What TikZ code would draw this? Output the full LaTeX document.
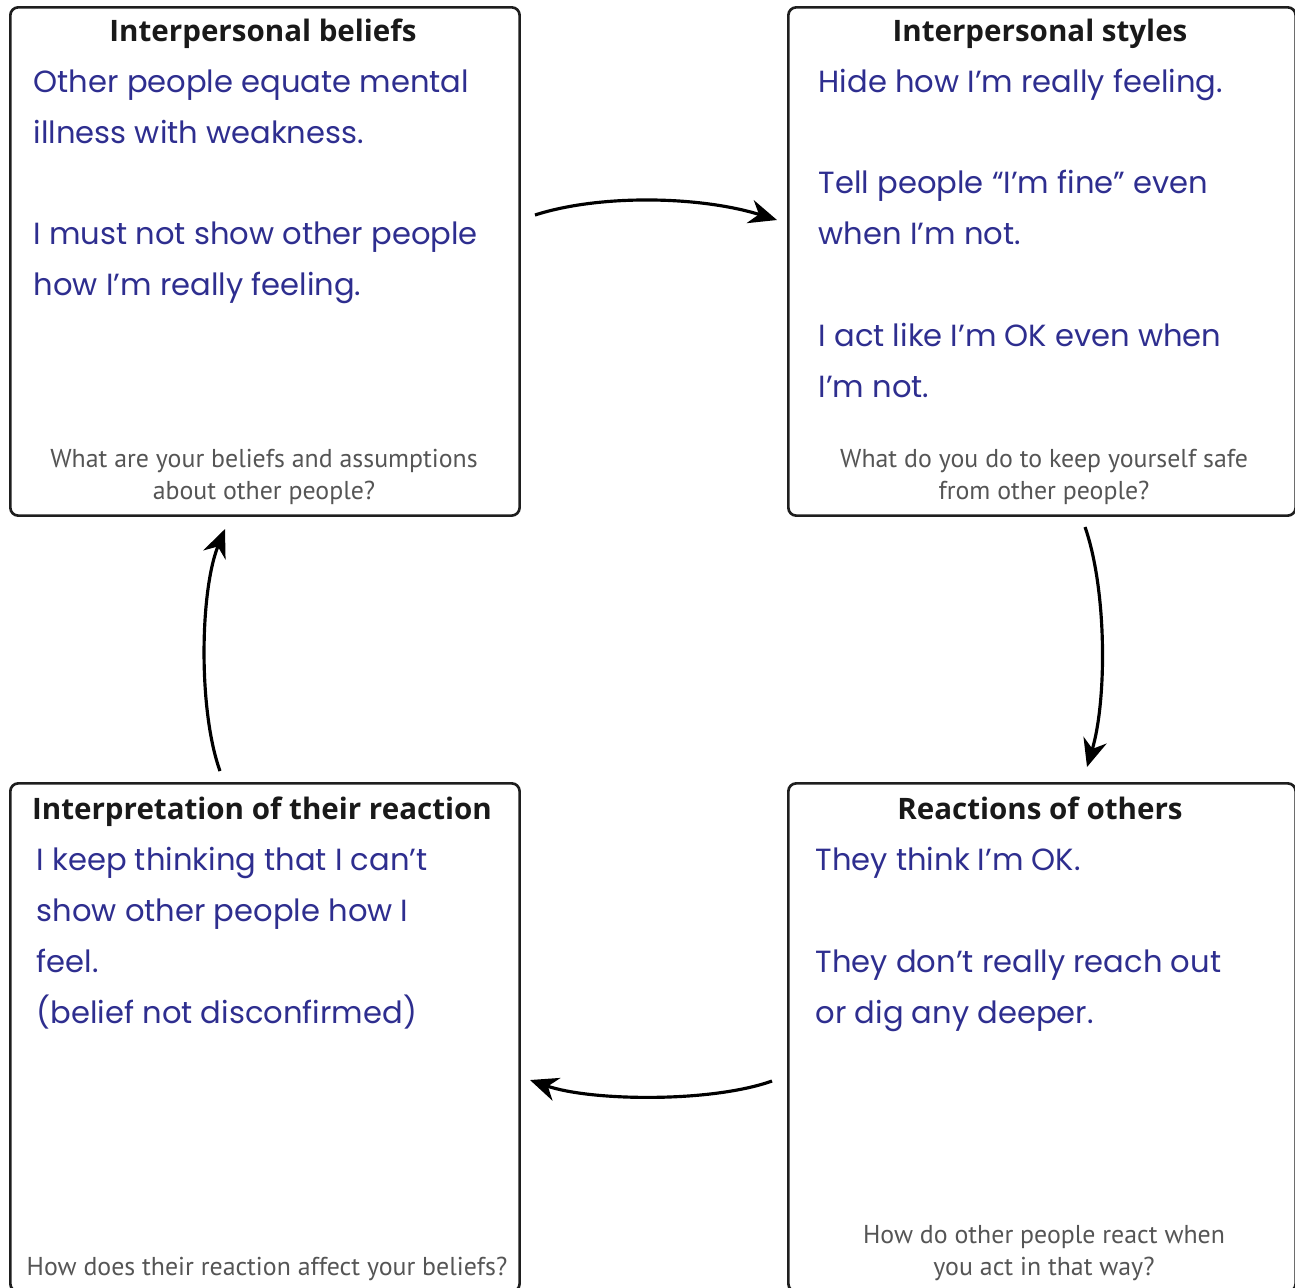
\documentclass[tikz,border=0pt]{standalone}
\usepackage{fontspec}
\setmainfont{PT Sans}
\newfontfamily\titlefont{Open Sans}
\newfontfamily\handfont{Poppins}
\usetikzlibrary{arrows.meta}
\definecolor{handblue}{RGB}{46,46,143}
\definecolor{qgrey}{RGB}{85,85,85}
\definecolor{boxline}{RGB}{30,30,30}
\tikzset{
  box/.style={draw=boxline, line width=0.75pt, rounded corners=0.08cm, anchor=north west,
    minimum width=5.09cm, minimum height=5.08cm, inner sep=0pt},
  title/.style={anchor=base, inner sep=0pt, text=black!90, font=\titlefont\fontsize{8.4pt}{10pt}\selectfont\bfseries},
  hand/.style={anchor=base west, inner sep=0pt, text=handblue,
    font=\handfont\fontsize{8.7pt}{14.5pt}\selectfont},
  question/.style={anchor=base, inner sep=0pt, align=center, text=qgrey,
    font=\fontsize{7.35pt}{9.1pt}\selectfont},
  cyc/.style={line width=0.9pt, -{Stealth[length=0.28cm, width=0.24cm]}}
}
\newcommand{\handlines}[1]{\begin{tabular}[t]{@{}l@{}}#1\end{tabular}}
\begin{document}
\begin{tikzpicture}[x=0.01cm, y=-0.01cm]
\useasboundingbox (0,0) rectangle (1295,1287);
\clip (0,0) rectangle (1295,1287);
% boxes
\node[box] (tl) at (9,6) {};
\node[box, minimum width=5.07cm] (tr) at (787,6) {};
\node[box] (bl) at (9,782) {};
\node[box, minimum width=5.07cm] (br) at (787,782) {};
% titles
\node[title] (tlt) at (263,41) {Interpersonal beliefs};
\node[title] (trt) at (1040,41) {Interpersonal styles};
\node[title] (blt) at (262,819) {Interpretation of their reaction};
\node[title] (brt) at (1040,819) {Reactions of others};
% handwritten text
\node[hand] (tlh) at (33,92) {\handlines{Other people equate mental\\illness with weakness.\\ \\I must not show other people\\how I’m really feeling.}};
\node[hand] (trh) at (818,92) {\handlines{Hide how I’m really feeling.\\ \\Tell people “I’m fine” even\\when I’m not.\\ \\I act like I’m OK even when\\I’m not.}};
\node[hand] (blh) at (36,870) {\handlines{I keep thinking that I can’t\\show other people how I\\feel.\\(belief not disconfirmed)}};
\node[hand] (brh) at (815,870) {\handlines{They think I’m OK.\\ \\They don’t really reach out\\or dig any deeper.}};
% questions (anchored at last baseline)
\node[question] (tlq) at (264,499) {What are your beliefs and assumptions\\about other people?};
\node[question] (trq) at (1044,499) {What do you do to keep yourself safe\\from other people?};
\node[question] (blq) at (267,1275) {How does their reaction affect your beliefs?};
\node[question] (brq) at (1044,1275) {How do other people react when\\you act in that way?};
% arrow end points
\coordinate (a1s) at (535,215);
\coordinate (a1e) at (777,220);
\coordinate (a2s) at (1085,527);
\coordinate (a2e) at (1087,767);
\coordinate (a3s) at (772,1081);
\coordinate (a3e) at (530,1080);
\coordinate (a4s) at (220,771);
\coordinate (a4e) at (225,529);
\draw[cyc] (a1s) .. controls (600,194) and (700,196) .. (a1e);
\draw[cyc] (a2s) .. controls (1107,590) and (1107,700) .. (a2e);
\draw[cyc] (a3s) .. controls (710,1103) and (590,1101) .. (a3e);
\draw[cyc] (a4s) .. controls (198,710) and (200,590) .. (a4e);
\end{tikzpicture}
\end{document}
